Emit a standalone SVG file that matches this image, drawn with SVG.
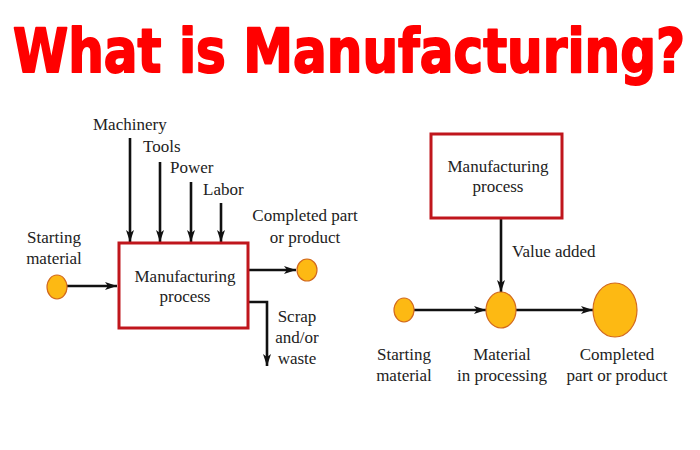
<svg xmlns="http://www.w3.org/2000/svg" width="700" height="450" viewBox="0 0 700 450">
<defs>
<style>
.t{font-family:"Liberation Serif","Times New Roman",serif;font-size:17px;fill:#222;}
.m{text-anchor:middle;}
.box{fill:#fff;stroke:#c0161c;stroke-width:3;}
.ln{fill:none;stroke:#111;stroke-width:2.6;}
.dot{fill:#fdb913;stroke:#d2691e;stroke-width:1.2;}
.title{font-family:"DejaVu Sans","Liberation Sans",sans-serif;font-weight:bold;font-size:50px;fill:#ff0000;stroke:#ff0000;stroke-width:1.6;stroke-linejoin:round;}
</style>
<marker id="ah" viewBox="0 0 12 8" refX="12" refY="4" markerWidth="12" markerHeight="8" markerUnits="userSpaceOnUse" orient="auto">
<path d="M0,0 L12,4 L0,8 L3,4 Z" fill="#111"/>
</marker>
</defs>
<rect width="700" height="450" fill="#fff"/>
<text class="title" transform="scale(1,1.2)" x="13" y="60" textLength="672" lengthAdjust="spacingAndGlyphs">What is Manufacturing?</text>

<g id="connectors">
<line class="ln" x1="67" y1="286" x2="117" y2="286" marker-end="url(#ah)"/>
<line class="ln" x1="130" y1="138" x2="130" y2="242" marker-end="url(#ah)"/>
<line class="ln" x1="160" y1="162" x2="160" y2="242" marker-end="url(#ah)"/>
<line class="ln" x1="191" y1="182" x2="191" y2="242" marker-end="url(#ah)"/>
<line class="ln" x1="221" y1="203" x2="221" y2="242" marker-end="url(#ah)"/>
<line class="ln" x1="249" y1="270" x2="296" y2="270" marker-end="url(#ah)"/>
<polyline class="ln" points="249,302 267,302 267,366" marker-end="url(#ah)"/>
<line class="ln" x1="501" y1="219" x2="501" y2="292" marker-end="url(#ah)"/>
<line class="ln" x1="414" y1="310" x2="486" y2="310" marker-end="url(#ah)"/>
<line class="ln" x1="516" y1="310" x2="593" y2="310" marker-end="url(#ah)"/>
</g>

<g id="left-process">
<rect class="box" x="119" y="243" width="129" height="85"/>
<text class="t m" x="185" y="282">Manufacturing</text>
<text class="t m" x="185" y="302">process</text>
</g>
<g id="left-start">
<ellipse class="dot" cx="57" cy="287" rx="10" ry="12"/>
<text class="t m" x="54" y="243">Starting</text>
<text class="t m" x="54" y="264">material</text>
</g>
<g id="inputs">
<text class="t" x="93" y="130">Machinery</text>
<text class="t" x="143" y="152">Tools</text>
<text class="t" x="170" y="173">Power</text>
<text class="t" x="203" y="195">Labor</text>
</g>
<g id="left-output">
<ellipse class="dot" cx="307" cy="270" rx="10" ry="11"/>
<text class="t m" x="305" y="221">Completed part</text>
<text class="t m" x="305" y="243">or product</text>
</g>
<g id="scrap">
<text class="t m" x="297" y="322">Scrap</text>
<text class="t m" x="297" y="343">and/or</text>
<text class="t m" x="297" y="364">waste</text>
</g>

<g id="right-process">
<rect class="box" x="431" y="134" width="131" height="84"/>
<text class="t m" x="498" y="172">Manufacturing</text>
<text class="t m" x="498" y="192">process</text>
</g>
<text class="t" x="512" y="257">Value added</text>
<g id="right-start">
<ellipse class="dot" cx="404" cy="310" rx="10" ry="12"/>
<text class="t m" x="404" y="360">Starting</text>
<text class="t m" x="404" y="381">material</text>
</g>
<g id="right-material">
<ellipse class="dot" cx="501" cy="310" rx="15" ry="18"/>
<text class="t m" x="502" y="360">Material</text>
<text class="t m" x="502" y="381">in processing</text>
</g>
<g id="right-completed">
<ellipse class="dot" cx="615" cy="310" rx="22" ry="27"/>
<text class="t m" x="617" y="360">Completed</text>
<text class="t m" x="617" y="381">part or product</text>
</g>
</svg>
